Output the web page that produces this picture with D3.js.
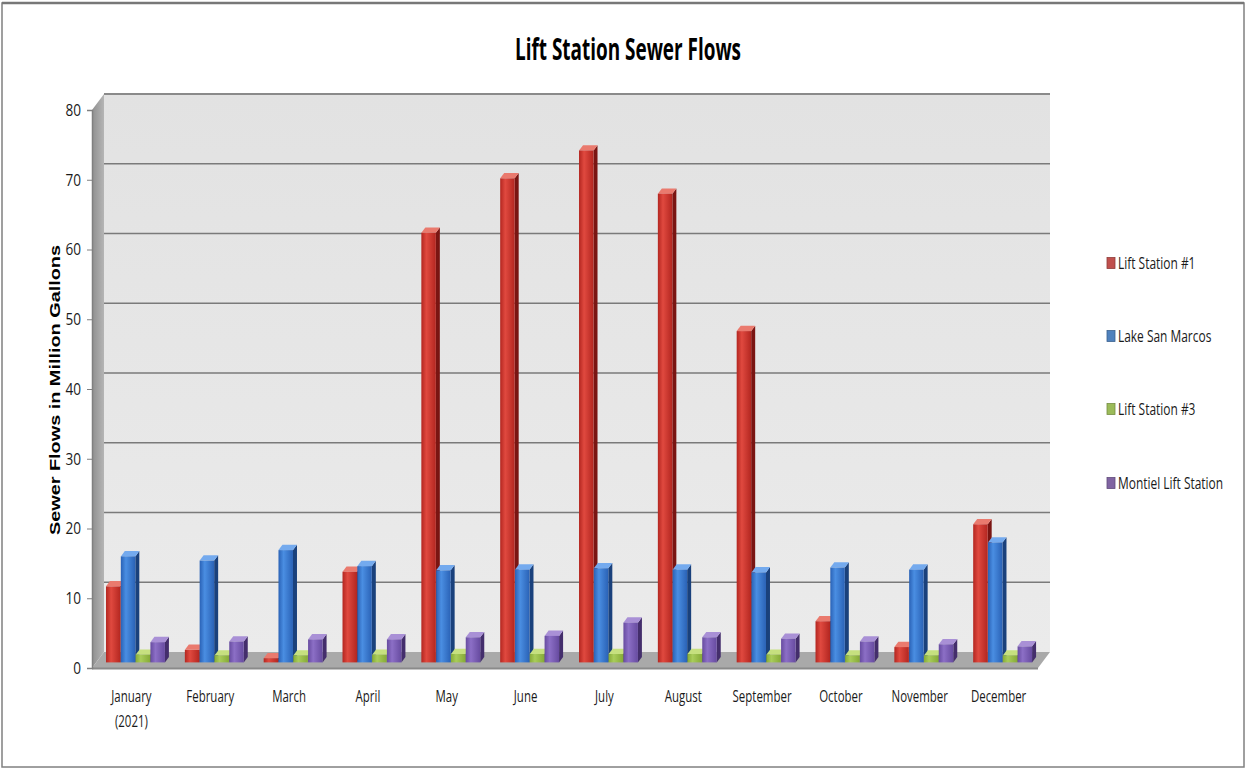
<!DOCTYPE html>
<html>
<head>
<meta charset="utf-8">
<script src="https://cdn.jsdelivr.net/npm/d3@7"></script>
<style>
  html, body { margin: 0; padding: 0; background: #ffffff; }
  svg { display: block; }
  .narrow { font-family: "Open Sans", "Liberation Sans", sans-serif; }
</style>
</head>
<body>
<svg id="chart" width="1248" height="770"></svg>
<script>
// Monthly sewer flows per lift station, million gallons
const months = ["January", "February", "March", "April", "May", "June", "July",
                "August", "September", "October", "November", "December"];
const seriesNames = ["Lift Station #1", "Lake San Marcos", "Lift Station #3", "Montiel Lift Station"];
const liftStation1 = [10.9, 1.8, 0.6, 13.0, 61.6, 69.4, 73.4, 67.2, 47.5, 5.9, 2.2, 19.8];
const lakeSanMarcos = [15.2, 14.6, 16.1, 13.8, 13.2, 13.3, 13.5, 13.3, 12.9, 13.6, 13.3, 17.2];
const liftStation3 = [1.1, 1.0, 1.0, 1.1, 1.2, 1.2, 1.2, 1.2, 1.1, 1.0, 1.0, 1.0];
const montiel = [2.9, 3.0, 3.3, 3.3, 3.6, 3.8, 5.7, 3.6, 3.4, 3.0, 2.6, 2.3];
const yTicks = [0, 10, 20, 30, 40, 50, 60, 70, 80];
const monthLabels = { "January": ["January", "(2021)"] };

const seriesValues = [liftStation1, lakeSanMarcos, liftStation3, montiel];

// face colours: [front light, front dark, side, top]
const palette = [
  ["#e0493f", "#b32620", "#7a1512", "#ea7a6e"],
  ["#4a8ee2", "#2a62b6", "#1a417c", "#74aaee"],
  ["#a9cd5a", "#86aa37", "#5f7f22", "#c6e07f"],
  ["#8c6fc6", "#674ba0", "#442e6c", "#a990d6"]
];
const legendColors = ["#c0504d", "#4f81bd", "#9bbb59", "#8064a2"];

const svg = d3.select("#chart");
const defs = svg.append("defs");

// squeeze text horizontally to get a condensed face
function condense(sel, k) {
  sel.each(function() {
    const t = d3.select(this);
    const xv = +t.attr("x") || 0;
    t.attr("x", xv / k).attr("transform", `scale(${k},1)`);
  });
}

// outer frame
svg.append("rect")
  .attr("x", 2).attr("y", 3).attr("width", 1242).attr("height", 764)
  .attr("fill", "#ffffff").attr("stroke", "#808080").attr("stroke-width", 1.5);
svg.append("line")
  .attr("x1", 2).attr("y1", 3).attr("x2", 1244).attr("y2", 3)
  .attr("stroke", "#777777").attr("stroke-width", 2.5);

// title
svg.append("text")
  .attr("x", 628).attr("y", 60)
  .attr("text-anchor", "middle")
  .attr("class", "narrow")
  .attr("font-size", 30).attr("font-weight", "bold")
  .attr("textLength", 226).attr("lengthAdjust", "spacingAndGlyphs")
  .text("Lift Station Sewer Flows");

// scales on the front plane of the plot box
const x = d3.scaleBand().domain(months).range([92, 1038]);
const y = d3.scaleLinear().domain([0, 80]).range([668, 110]);
const DX = 12, DY = -16; // full depth offset of the 3-D box
const P = (px, py, d) => [px + DX * d, py + DY * d];
const pts = arr => arr.map(p => p.join(",")).join(" ");

const x0 = x.range()[0], x1 = x.range()[1];
const yb = y(0), yt = y(80);

// back wall
const wallGrad = defs.append("linearGradient").attr("id", "wall")
  .attr("x1", 0).attr("y1", 0).attr("x2", 0).attr("y2", 1);
wallGrad.append("stop").attr("offset", "0%").attr("stop-color", "#e2e2e2");
wallGrad.append("stop").attr("offset", "100%").attr("stop-color", "#ebebeb");
svg.append("polygon")
  .attr("points", pts([P(x0, yt, 1), P(x1, yt, 1), P(x1, yb, 1), P(x0, yb, 1)]))
  .attr("fill", "url(#wall)");

// left side wall
const sideGrad = defs.append("linearGradient").attr("id", "sidewall")
  .attr("x1", 0).attr("y1", 0).attr("x2", 1).attr("y2", 0);
sideGrad.append("stop").attr("offset", "0%").attr("stop-color", "#8f8f8f");
sideGrad.append("stop").attr("offset", "100%").attr("stop-color", "#b5b5b5");
svg.append("polygon")
  .attr("points", pts([P(x0, yt, 0), P(x0, yt, 1), P(x0, yb, 1), P(x0, yb, 0)]))
  .attr("fill", "url(#sidewall)");

// gridlines on the back wall
svg.append("g").selectAll("line")
  .data(yTicks.filter(v => v > 0))
  .join("line")
  .attr("x1", d => P(x0, y(d), 1)[0]).attr("y1", d => P(x0, y(d), 1)[1])
  .attr("x2", d => P(x1, y(d), 1)[0]).attr("y2", d => P(x1, y(d), 1)[1])
  .attr("stroke", d => d === 80 ? "#8a8a8a" : "#7a7a7a")
  .attr("stroke-width", d => d === 80 ? 2 : 1.5);

// floor
svg.append("polygon")
  .attr("points", pts([P(x0, yb, 0), P(x0, yb, 1), P(x1, yb, 1), P(x1, yb, 0)]))
  .attr("fill", "#a9a9a9");
svg.append("line")
  .attr("x1", x0).attr("y1", yb + 0.5).attr("x2", x1).attr("y2", yb + 0.5)
  .attr("stroke", "#8a8a8a").attr("stroke-width", 2);

// gradients for bar front faces
palette.forEach((c, i) => {
  const g = defs.append("linearGradient").attr("id", "front" + i)
    .attr("x1", 0).attr("y1", 0).attr("x2", 1).attr("y2", 0);
  g.append("stop").attr("offset", "0%").attr("stop-color", c[1]);
  g.append("stop").attr("offset", "35%").attr("stop-color", c[0]);
  g.append("stop").attr("offset", "100%").attr("stop-color", c[1]);
});

// bars
const barDepth = 0.35;       // bars stand at this fraction of the box depth
const BDX = 4, BDY = -5.3;   // bar thickness
const groupW = 59.2;
const xs = d3.scaleBand().domain(d3.range(seriesNames.length)).range([0, groupW]);
const barW = xs.bandwidth() - 0.3;

const barsG = svg.append("g");
months.forEach((m, i) => {
  seriesValues.forEach((vals, s) => {
    const v = vals[i];
    const [fx, fyTop] = P(x(m) + (x.bandwidth() - groupW) / 2 + xs(s), y(v), barDepth);
    const fyBase = P(0, y(0), barDepth)[1];
    const g = barsG.append("g");
    const c = palette[s];
    // side face
    g.append("polygon")
      .attr("points", pts([[fx + barW, fyTop], [fx + barW + BDX, fyTop + BDY],
                           [fx + barW + BDX, fyBase + BDY], [fx + barW, fyBase]]))
      .attr("fill", c[2]);
    // top face
    g.append("polygon")
      .attr("points", pts([[fx, fyTop], [fx + barW, fyTop],
                           [fx + barW + BDX, fyTop + BDY], [fx + BDX, fyTop + BDY]]))
      .attr("fill", c[3]);
    // front face
    g.append("rect")
      .attr("x", fx).attr("y", fyTop)
      .attr("width", barW).attr("height", Math.max(0, fyBase - fyTop))
      .attr("fill", "url(#front" + s + ")");
  });
});

// value axis on the front left edge
const yAxis = svg.append("g")
  .attr("transform", `translate(${x0},0)`)
  .call(d3.axisLeft(y).tickValues(yTicks).tickSize(5).tickPadding(6));
yAxis.select(".domain").attr("stroke", "#808080").attr("stroke-width", 1.5);
yAxis.selectAll(".tick line").attr("stroke", "#808080");
yAxis.selectAll("text")
  .attr("class", "narrow")
  .attr("font-size", 17).attr("fill", "#1a1a1a");
condense(yAxis.selectAll("text"), 0.8);

// category axis labels
const xAxis = svg.append("g")
  .attr("transform", `translate(0,${yb})`)
  .call(d3.axisBottom(x).tickSize(0).tickPadding(23));
xAxis.select(".domain").remove();
xAxis.selectAll("text")
  .attr("class", "narrow")
  .attr("font-size", 15.5).attr("fill", "#1a1a1a")
  .each(function(d) {
    const lines = monthLabels[d];
    if (!lines) return;
    const t = d3.select(this).text(null);
    lines.forEach((ln, k) => {
      t.append("tspan").attr("x", 0).attr("dy", k === 0 ? "0.71em" : "1.6em").text(ln);
    });
    t.attr("dy", null);
  });
condense(xAxis.selectAll("text"), 0.74);

// axis title
svg.append("text")
  .attr("transform", "translate(60,390) rotate(-90)")
  .attr("text-anchor", "middle")
  .attr("font-family", "'Liberation Sans', Arial, sans-serif")
  .attr("font-weight", "bold").attr("font-size", 14.5)
  .attr("textLength", 290).attr("lengthAdjust", "spacingAndGlyphs")
  .text("Sewer Flows in Million Gallons");

// legend
const legendY = [263, 336, 409, 483];
const legend = svg.append("g").selectAll("g")
  .data(seriesNames)
  .join("g")
  .attr("transform", (d, i) => `translate(1107,${legendY[i]})`);
legend.append("rect")
  .attr("x", 0).attr("y", -5.5).attr("width", 8).attr("height", 11)
  .attr("fill", (d, i) => legendColors[i])
  .attr("stroke", (d, i) => d3.color(legendColors[i]).darker(0.8)).attr("stroke-width", 0.8);
legend.append("text")
  .attr("x", 11).attr("y", 6)
  .attr("class", "narrow")
  .attr("font-size", 15.5).attr("fill", "#1a1a1a")
  .text(d => d);
condense(legend.selectAll("text"), 0.77);
</script>
</body>
</html>
